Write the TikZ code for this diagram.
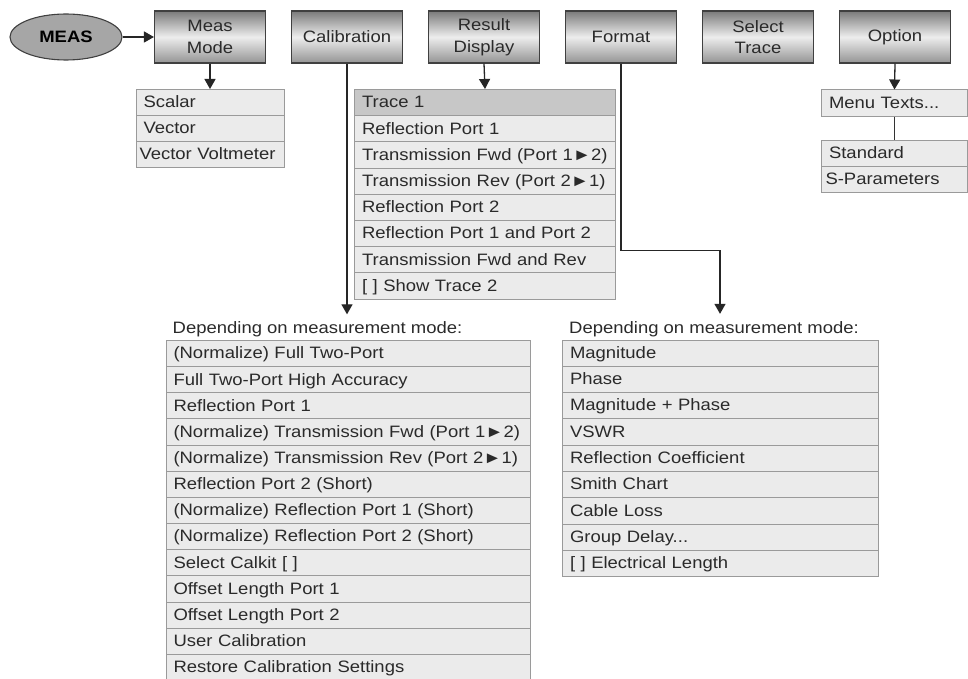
\documentclass[tikz,border=0pt]{standalone}
\usepackage{fontspec}
\setmainfont{Liberation Sans}[FakeStretch=1.12]
\usepackage{tikz}
\usetikzlibrary{positioning, arrows.meta, shapes.geometric}

\definecolor{rowfill}{HTML}{EBEBEB}
\definecolor{rowedge}{HTML}{9A9A9A}
\definecolor{txtgray}{HTML}{2A2A2A}

\begin{document}
\begin{tikzpicture}[x=1pt, y=-1pt, font=\fontsize{16.5}{21.5}\selectfont,
  text=txtgray,
  key/.style={draw=black!75, line width=1.1pt, minimum width=111pt, minimum height=52pt,
              align=center, top color=black!52, bottom color=black!42, middle color=black!7},
  item/.style={draw=rowedge, line width=1pt, fill=rowfill, anchor=north west,
               minimum height=26.2pt, text height=13pt, text depth=2.5pt,
               inner xsep=7.5pt, align=left},
  hd/.style={anchor=base west, inner sep=0pt},
  link/.style={line width=1.3pt, draw=black!85, -{Triangle[width=11pt, length=10pt]}},
  plain/.style={line width=1.3pt, draw=black!80}]
  \useasboundingbox (0,0) rectangle (968,679);

  % softkeys along the top
  \node[ellipse, draw=black!75, line width=1.1pt, fill=black!35, minimum width=112pt,
        minimum height=46pt, font=\fontsize{16.5}{21.5}\selectfont\bfseries, text=black]
        (meas) at (66,37) {MEAS};
  \node[key] (mm)  at (210,37) {Meas\\ Mode};
  \node[key] (cal) at (347,37) {Calibration};
  \node[key] (rd)  at (484,37) {Result\\ Display};
  \node[key] (fmt) at (621,37) {Format};
  \node[key] (sel) at (758,37) {Select\\ Trace};
  \node[key] (opt) at (895,37) {Option};

  % Meas Mode menu
  \foreach \t/\s [count=\i] in {Scalar/7.5, Vector/7.5, Vector Voltmeter/3.5}
    \node[item, text width={148pt-2*\s pt}, inner xsep=\s pt] (mm\i) at (135.5, {89+26*(\i-1)}) {\t};

  % Result Display menu
  \foreach \t [count=\i] in {Trace 1, Reflection Port 1, Transmission Fwd (Port 1►2),
      Transmission Rev (Port 2►1), Reflection Port 2, Reflection Port 1 and Port 2,
      Transmission Fwd and Rev, {[ ] Show Trace 2}}
    \node[item, text width=246pt] (rd\i) at (354, {89+26.2*(\i-1)}) {\t};
  \node[item, text width=246pt, fill=black!22] at (rd1.north west) {Trace 1};

  % Calibration menu
  \node[hd] (calhd) at (172.5,333) {Depending on measurement mode:};
  \foreach \t [count=\i] in {(Normalize) Full Two-Port, Full Two-Port High Accuracy,
      Reflection Port 1, (Normalize) Transmission Fwd (Port 1►2),
      (Normalize) Transmission Rev (Port 2►1), Reflection Port 2 (Short),
      (Normalize) Reflection Port 1 (Short), (Normalize) Reflection Port 2 (Short),
      {Select Calkit [ ]}, Offset Length Port 1, Offset Length Port 2,
      User Calibration, Restore Calibration Settings}
    \node[item, text width=349pt] (cal\i) at (165.5, {340+26.15*(\i-1)}) {\t};

  % Format menu
  \node[hd] (fmthd) at (569,333) {Depending on measurement mode:};
  \foreach \t [count=\i] in {Magnitude, Phase, Magnitude + Phase, VSWR,
      Reflection Coefficient, Smith Chart, Cable Loss, Group Delay{...},
      {[ ] Electrical Length}}
    \node[item, text width=301pt] (fmt\i) at (562, {339.5+26.3*(\i-1)}) {\t};

  % Option menu
  \node[item, text width=131pt] (opt1) at (821,89.5) {Menu Texts...};
  \node[item, text width=131pt] (opt2) at (821,140) {Standard};
  \node[item, text width=138pt, inner xsep=4pt] (opt3) at (821,166) {S-Parameters};

  % connectors
  \draw[link] (meas) -- (mm);
  \draw[link] (mm.south) -- (mm1.north);
  \draw[link] (rd.south) -- (rd1.north);
  \draw[link] (opt.south) -- (opt1.north);
  \draw[plain] (opt1.south) -- (opt2.north);
  \draw[link, shorten >=6.5pt] (cal.south) -- (cal.south |- calhd.north);
  \coordinate (fmtbend) at (720,250.5);
  \draw[link, shorten >=7pt] (fmt.south) |- (fmtbend) -- (fmtbend |- fmthd.north);
\end{tikzpicture}
\end{document}
